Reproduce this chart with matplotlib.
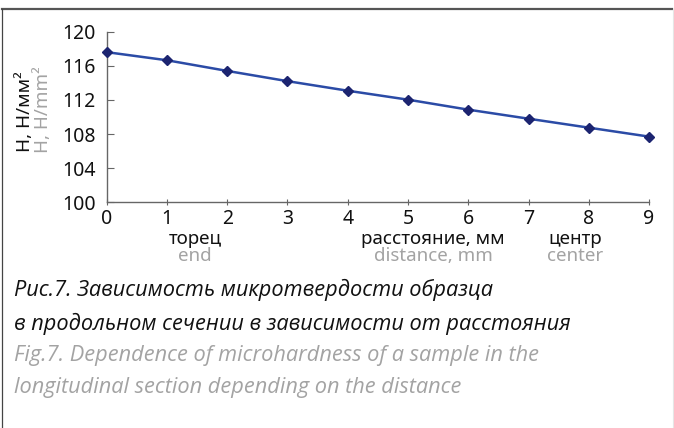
import matplotlib
matplotlib.use("Agg")
import matplotlib.pyplot as plt
from matplotlib.lines import Line2D

# distance from the end face, mm
distance = [0, 1, 2, 3, 4, 5, 6, 7, 8, 9]
# microhardness H, N/mm^2
hardness = [117.6, 116.65, 115.4, 114.2, 113.08, 112.03, 110.86, 109.8, 108.75, 107.7]
y_ticks = [100, 104, 108, 112, 116, 120]

GRAY = "#a3a3a3"
plt.rcParams["font.family"] = ["Noto Sans", "DejaVu Sans"]

fig = plt.figure(figsize=(6.74, 4.28), dpi=100, facecolor="white")
ax = fig.add_axes([0.1583, 0.5273, 0.963 - 0.1583, 0.926 - 0.5273])

ax.plot(distance, hardness, color="#2b4ba6", lw=1.8, marker="D", ms=5,
        mfc="#1c2470", mec="#1c2470", clip_on=False, zorder=3)

ax.set_xlim(0, 9)
ax.set_ylim(100, 120)
ax.set_xticks(distance)
ax.set_yticks(y_ticks)
for s in ("top", "right"):
    ax.spines[s].set_visible(False)
for s in ("left", "bottom"):
    ax.spines[s].set_color("#666666")
    ax.spines[s].set_linewidth(1.0)
ax.tick_params(axis="y", direction="in", length=5, color="#666666",
               labelsize=14, labelcolor="#111111", pad=8)
ax.tick_params(axis="x", direction="inout", length=5, color="#666666",
               labelsize=14, labelcolor="#111111", pad=2)

# y label: Russian (black) and English (gray)
fig.text(25 / 674, 1 - 112 / 428, "Н, Н/мм²", rotation=90, ha="center",
         va="center", fontsize=13.5, color="#111111")
fig.text(43 / 674, 1 - 110 / 428, "H, H/mm²", rotation=90, ha="center",
         va="center", fontsize=13.5, color=GRAY)

# x labels under the axis
for xc, ru, en in [(195, "торец", "end"),
                   (433, "расстояние, мм", "distance, mm"),
                   (575, "центр", "center")]:
    fig.text(xc / 674, 1 - 239 / 428, ru, ha="center", va="center",
             fontsize=13.5, color="#111111")
    fig.text(xc / 674, 1 - 256 / 428, en, ha="center", va="center",
             fontsize=13.5, color=GRAY)

# caption
cap_font = ["Open Sans", "DejaVu Sans"]
captions = [
    (290, "Рис.7. Зависимость микротвердости образца", "#111111"),
    (324, "в продольном сечении в зависимости от расстояния", "#111111"),
    (355, "Fig.7. Dependence of microhardness of a sample in the", GRAY),
    (388, "longitudinal section depending on the distance", GRAY),
]
for yc, txt, col in captions:
    fig.text(14 / 674, 1 - yc / 428, txt, ha="left", va="center",
             fontsize=15.7, style="italic", family=cap_font, color=col)

# frame around the figure block
fig.add_artist(Line2D([2 / 674, 672 / 674], [1 - 8.5 / 428] * 2,
                      transform=fig.transFigure, color="#555555", lw=1.6))
fig.add_artist(Line2D([2 / 674] * 2, [0, 1 - 8.5 / 428],
                      transform=fig.transFigure, color="#444444", lw=0.9))
fig.add_artist(Line2D([672.5 / 674] * 2, [0, 1 - 9 / 428],
                      transform=fig.transFigure, color="#e6e6e6", lw=0.8))

fig.savefig("out.png", dpi=100, facecolor="white")
